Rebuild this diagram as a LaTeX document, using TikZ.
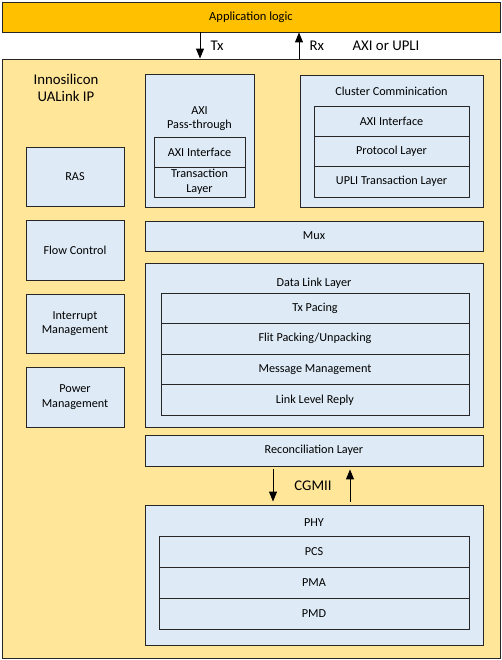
\documentclass[tikz,border=0pt]{standalone}
\usepackage{fontspec}
\setmainfont{Carlito}
\usetikzlibrary{arrows.meta,positioning}

\definecolor{applogic}{HTML}{FFC000}
\definecolor{ipfill}{HTML}{FFE699}
\definecolor{blkfill}{HTML}{DEEBF7}
\definecolor{blkedge}{HTML}{262626}

\tikzset{
  blk/.style={draw=blkedge, fill=blkfill, line width=0.9pt, rectangle, inner sep=0pt, align=center, font=\fontsize{12.2}{14.5}\selectfont},
  sz/.style 2 args={minimum width=#1pt, minimum height=#2pt},
  lbl/.style={inner sep=0pt, align=center, font=\fontsize{12.2}{14}\selectfont},
  biglbl/.style={inner sep=0pt, font=\fontsize{14.8}{16.5}\selectfont},
  flow/.style={-{Triangle[length=10pt,width=8pt]}, line width=1pt},
}

\begin{document}
\begin{tikzpicture}[x=1pt,y=-1pt]
\useasboundingbox (0,0) rectangle (502,660);
% top level
\node[blk, fill=applogic, sz={498}{30}, font=\fontsize{12.5}{14}\selectfont] (app) at (251,17) {Application logic};
\node[blk, fill=ipfill, sz={498}{599}] (ip) at (251,358.5) {};
\node[biglbl, align=center] (iplbl) at (66,88) {Innosilicon\\UALink IP};

% Tx / Rx
\coordinate (txx) at (200,0);
\coordinate (rxx) at (299,0);
\draw[flow] (app.south -| txx) -- (ip.north -| txx) node[biglbl, midway, right=10pt] (txlbl) {Tx};
\draw[flow] (ip.north -| rxx) -- (app.south -| rxx) node[biglbl, midway, right=10pt] (rxlbl) {Rx};
\node[biglbl] (busl) at (386,46) {AXI or UPLI};

% AXI pass-through
\node[blk, sz={109}{133}] (axipt) at (199.5,140.5) {};
\node[lbl] (axipttl) at (199.5,118.5) {AXI\\Pass-through};
\node[blk, sz={91}{30}] (axiifa) at (199.5,152) {AXI Interface};
\node[blk, sz={91}{30}] (trans) at (199.5,182) {Transaction\\Layer};

% cluster communication
\node[blk, sz={183}{132}] (clust) at (391.5,141) {};
\node[lbl] (clusttl) at (391.5,91) {Cluster Comminication};
\node[blk, sz={155}{30}] (axiifb) at (391.5,121) {AXI Interface};
\node[blk, sz={155}{30}] (proto) at (391.5,151) {Protocol Layer};
\node[blk, sz={155}{31}] (uplit) at (391.5,181.5) {UPLI Transaction Layer};

% side blocks
\node[blk, sz={98}{59}] (ras) at (75,176.5) {RAS};
\node[blk, sz={98}{60}] (flowc) at (75,250) {Flow Control};
\node[blk, sz={98}{59}] (intr) at (75,323.5) {Interrupt\\Management};
\node[blk, sz={98}{60}] (pwr) at (75,397) {Power\\Management};

% mux
\node[blk, sz={338}{30}] (mux) at (314,236) {Mux};

% data link layer
\node[blk, sz={338}{164}] (dll) at (314,345) {};
\node[lbl] (dlltl) at (314,283) {Data Link Layer};
\node[blk, sz={308}{30.5}] (txp) at (315,308.25) {Tx Pacing};
\node[blk, sz={308}{30.5}] (flit) at (315,338.75) {Flit Packing/Unpacking};
\node[blk, sz={308}{30.5}] (msg) at (315,369.25) {Message Management};
\node[blk, sz={308}{30.5}] (llr) at (315,399.75) {Link Level Reply};

% reconciliation
\node[blk, sz={338}{31}] (recon) at (314,450.5) {Reconciliation Layer};

% PHY
\node[blk, sz={338}{140}] (phy) at (314,575) {};
\node[lbl] (phytl) at (314,523) {PHY};
\node[blk, sz={310}{31}] (pcs) at (314,551.5) {PCS};
\node[blk, sz={310}{31}] (pma) at (314,582.5) {PMA};
\node[blk, sz={310}{31}] (pmd) at (314,613.5) {PMD};

% CGMII
\coordinate (cgdn) at (273,0);
\coordinate (cgup) at (350,0);
\draw[flow, shorten <=3pt, shorten >=3pt] (recon.south -| cgdn) -- (phy.north -| cgdn);
\draw[flow, shorten <=3pt, shorten >=3pt] (phy.north -| cgup) -- (recon.south -| cgup);
\node[biglbl] (cglbl) at (313,486) {CGMII};
\end{tikzpicture}
\end{document}
